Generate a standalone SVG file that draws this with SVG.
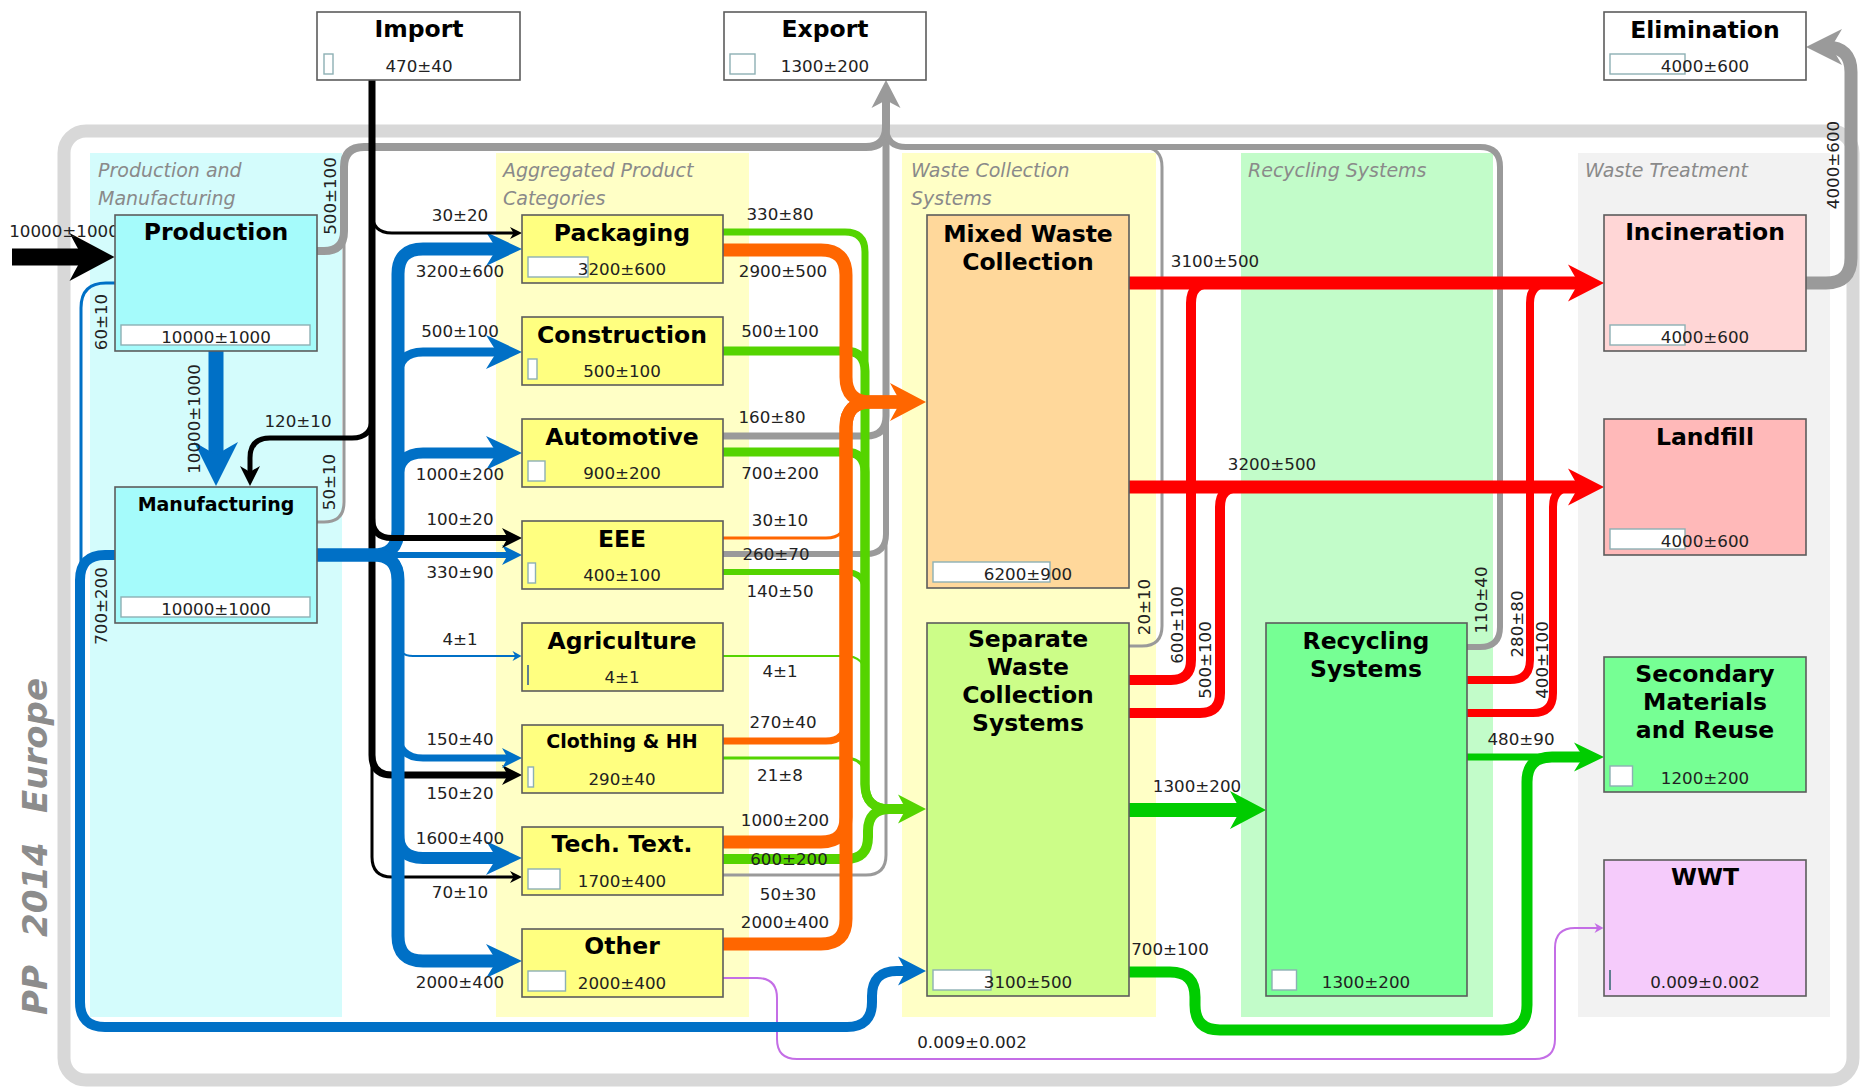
<svg xmlns="http://www.w3.org/2000/svg" width="1864" height="1088" viewBox="0 0 1864 1088">
<style>
.pl{font-family:'DejaVu Sans',sans-serif;font-style:italic;font-size:19px;fill:#8a8a8a}
.nd{stroke:#5c5c5c;stroke-width:1.6}
.bar{fill:#fff;stroke:#8db0b4;stroke-width:1.4}
.bln{stroke:#5f7f8f;stroke-width:2}
.tt{font-family:'DejaVu Sans',sans-serif;font-weight:bold;font-size:23.5px;text-anchor:middle;fill:#000}
.tsm{font-size:19px}
.val{font-family:'DejaVu Sans',sans-serif;font-size:16.7px;text-anchor:middle;fill:#222}
.lb{font-family:'DejaVu Sans',sans-serif;font-size:16.7px;text-anchor:middle;fill:#222}
.f{fill:none}
.k{stroke:#000}
.b{stroke:#0070c6}
.o{stroke:#ff6600}
.y{stroke:#55d400}
.g{stroke:#9a9a9a}
.r{stroke:#ff0000}
.n{stroke:#00cc00}
.v{stroke:#c46ee6}
</style>
<defs>
<marker id="bk-xl" markerUnits="userSpaceOnUse" orient="auto" viewBox="-30 -30 60 60" markerWidth="60" markerHeight="60" refX="0" refY="0"><path d="M22.5,0 L-22.5,-24 Q-13,-6 -9,0 Q-13,6 -22.5,24 Z" fill="#000"/></marker>
<marker id="bk-s" markerUnits="userSpaceOnUse" orient="auto" viewBox="-30 -30 60 60" markerWidth="60" markerHeight="60" refX="0" refY="0"><path d="M10,0 L-10,-10 Q-6,-3 -4,0 Q-6,3 -10,10 Z" fill="#000"/></marker>
<marker id="bk-xs" markerUnits="userSpaceOnUse" orient="auto" viewBox="-30 -30 60 60" markerWidth="60" markerHeight="60" refX="0" refY="0"><path d="M6,0 L-6,-6 L-2.4,0 L-6,6 Z" fill="#000"/></marker>
<marker id="bl-xl" markerUnits="userSpaceOnUse" orient="auto" viewBox="-30 -30 60 60" markerWidth="60" markerHeight="60" refX="0" refY="0"><path d="M22,0 L-22,-22 Q-13,-6 -9,0 Q-13,6 -22,22 Z" fill="#0070c6"/></marker>
<marker id="bl-l" markerUnits="userSpaceOnUse" orient="auto" viewBox="-30 -30 60 60" markerWidth="60" markerHeight="60" refX="0" refY="0"><path d="M18,0 L-18,-17 Q-10,-4 -7,0 Q-10,4 -18,17 Z" fill="#0070c6"/></marker>
<marker id="bl-m" markerUnits="userSpaceOnUse" orient="auto" viewBox="-30 -30 60 60" markerWidth="60" markerHeight="60" refX="0" refY="0"><path d="M14,0 L-14,-14.5 Q-8,-3 -5.5,0 Q-8,3 -14,14.5 Z" fill="#0070c6"/></marker>
<marker id="bl-s" markerUnits="userSpaceOnUse" orient="auto" viewBox="-30 -30 60 60" markerWidth="60" markerHeight="60" refX="0" refY="0"><path d="M10,0 L-10,-10 Q-6,-3 -4,0 Q-6,3 -10,10 Z" fill="#0070c6"/></marker>
<marker id="bl-xxs" markerUnits="userSpaceOnUse" orient="auto" viewBox="-30 -30 60 60" markerWidth="60" markerHeight="60" refX="0" refY="0"><path d="M4.5,0 L-4.5,-5 L-1.8,0 L-4.5,5 Z" fill="#0070c6"/></marker>
<marker id="or-l" markerUnits="userSpaceOnUse" orient="auto" viewBox="-30 -30 60 60" markerWidth="60" markerHeight="60" refX="0" refY="0"><path d="M18,0 L-18,-19 Q-10,-4 -7,0 Q-10,4 -18,19 Z" fill="#ff6600"/></marker>
<marker id="lm-m" markerUnits="userSpaceOnUse" orient="auto" viewBox="-30 -30 60 60" markerWidth="60" markerHeight="60" refX="0" refY="0"><path d="M14,0 L-14,-14.5 Q-8,-3 -5.5,0 Q-8,3 -14,14.5 Z" fill="#55d400"/></marker>
<marker id="gy-m" markerUnits="userSpaceOnUse" orient="auto" viewBox="-30 -30 60 60" markerWidth="60" markerHeight="60" refX="0" refY="0"><path d="M14,0 L-14,-14.5 Q-8,-3 -5.5,0 Q-8,3 -14,14.5 Z" fill="#9a9a9a"/></marker>
<marker id="gy-l" markerUnits="userSpaceOnUse" orient="auto" viewBox="-30 -30 60 60" markerWidth="60" markerHeight="60" refX="0" refY="0"><path d="M18,0 L-18,-18 Q-10,-4 -7,0 Q-10,4 -18,18 Z" fill="#9a9a9a"/></marker>
<marker id="rd-l" markerUnits="userSpaceOnUse" orient="auto" viewBox="-30 -30 60 60" markerWidth="60" markerHeight="60" refX="0" refY="0"><path d="M18,0 L-18,-18.5 Q-10,-4 -7,0 Q-10,4 -18,18.5 Z" fill="#ff0000"/></marker>
<marker id="gn-l" markerUnits="userSpaceOnUse" orient="auto" viewBox="-30 -30 60 60" markerWidth="60" markerHeight="60" refX="0" refY="0"><path d="M18,0 L-18,-19 Q-10,-4 -7,0 Q-10,4 -18,19 Z" fill="#00cc00"/></marker>
<marker id="gn-m" markerUnits="userSpaceOnUse" orient="auto" viewBox="-30 -30 60 60" markerWidth="60" markerHeight="60" refX="0" refY="0"><path d="M14,0 L-16,-14.5 Q-9,-3 -6,0 Q-9,3 -16,14.5 Z" fill="#00cc00"/></marker>
<marker id="vi-xxs" markerUnits="userSpaceOnUse" orient="auto" viewBox="-30 -30 60 60" markerWidth="60" markerHeight="60" refX="0" refY="0"><path d="M4.5,0 L-4.5,-5 L-1.8,0 L-4.5,5 Z" fill="#c46ee6"/></marker>
</defs>

<rect width="1864" height="1088" fill="#fff"/>

<g id="frame">
<rect x="64" y="131" width="1789" height="949" rx="22" fill="none" stroke="#d8d8d8" stroke-width="13"/>
<text transform="translate(47,1015) rotate(-90)" font-family="'DejaVu Sans',sans-serif" font-weight="bold" font-style="italic" font-size="34" fill="#8c8c8c"><tspan x="0">PP</tspan><tspan x="78">2014</tspan><tspan x="202">Europe</tspan></text>
</g>

<g id="panels">
<rect x="90" y="153" width="252" height="864" fill="#d4fcfc"/>
<rect x="496" y="153" width="253" height="864" fill="#ffffc6"/>
<rect x="902" y="153" width="254" height="864" fill="#ffffc6"/>
<rect x="1241" y="153" width="252" height="864" fill="#c2fcc9"/>
<rect x="1578" y="153" width="252" height="864" fill="#f2f2f2"/>
<text class="pl" x="98" y="177">Production and</text>
<text class="pl" x="98" y="205">Manufacturing</text>
<text class="pl" x="503" y="177">Aggregated Product</text>
<text class="pl" x="503" y="205">Categories</text>
<text class="pl" x="911" y="177">Waste Collection</text>
<text class="pl" x="911" y="205">Systems</text>
<text class="pl" x="1248" y="177">Recycling Systems</text>
<text class="pl" x="1585" y="177">Waste Treatment</text>
</g>

<g id="connectors" stroke-linejoin="round">
<g id="gray-flows">
<path class="f g" stroke-width="8" d="M317,251 H324 Q344,251 344,231 V167 Q344,147 364,147 H866 Q886,147 886,127 V94" marker-end="url(#gy-m)"/>
<path class="f g" stroke-width="3" d="M317,522 H324 Q344,522 344,502 V167 Q344,147 364,147 H866 Q886,147 886,127 V94"/>
<path class="f g" stroke-width="7" d="M723,436 H866 Q886,436 886,416 V94"/>
<path class="f g" stroke-width="6" d="M723,554 H866 Q886,554 886,534 V94"/>
<path class="f g" stroke-width="3" d="M723,875 H866 Q886,875 886,855 V94"/>
<path class="f g" stroke-width="3" d="M1129,646 H1142 Q1162,646 1162,626 V167 Q1162,147 1142,147 H906 Q886,147 886,127 V94"/>
<path class="f g" stroke-width="6" d="M1467,647 H1480 Q1500,647 1500,627 V167 Q1500,147 1480,147 H906 Q886,147 886,127 V94"/>
<path class="f g" stroke-width="13" d="M1806,283 H1826 Q1851,283 1851,258 V72 Q1851,47 1826,47 H1824" marker-end="url(#gy-l)"/>
</g>
<g id="lime-flows">
<path class="f y" stroke-width="7" d="M723,232 H845 Q865,232 865,252 V784 Q865,809 890,809 H912" marker-end="url(#lm-m)"/>
<path class="f y" stroke-width="9" d="M723,351 H845 Q865,351 865,371 V784 Q865,809 890,809 H912"/>
<path class="f y" stroke-width="9" d="M723,452 H845 Q865,452 865,472 V784 Q865,809 890,809 H912"/>
<path class="f y" stroke-width="6" d="M723,572 H845 Q865,572 865,592 V784 Q865,809 890,809 H912"/>
<path class="f y" stroke-width="2" d="M723,656 H845 Q865,656 865,676 V784 Q865,809 890,809 H912"/>
<path class="f y" stroke-width="3" d="M723,758 H845 Q865,758 865,778 V784 Q865,809 890,809 H912"/>
<path class="f y" stroke-width="10" d="M723,859 H846 Q868,859 868,837 V831 Q868,809 890,809 H912"/>
</g>
<g id="orange-flows">
<path class="f o" stroke-width="13" d="M723,250 H821 Q846,250 846,275 V377 Q846,402 871,402 H908" marker-end="url(#or-l)"/>
<path class="f o" stroke-width="3" d="M723,538 H826 Q846,538 846,518 V427 Q846,402 871,402 H908"/>
<path class="f o" stroke-width="7" d="M723,741 H826 Q846,741 846,721 V427 Q846,402 871,402 H908"/>
<path class="f o" stroke-width="13" d="M723,842 H821 Q846,842 846,817 V427 Q846,402 871,402 H908"/>
<path class="f o" stroke-width="13" d="M723,944 H821 Q846,944 846,919 V427 Q846,402 871,402 H908"/>
</g>
<g id="violet-flows">
<path class="f v" stroke-width="2" d="M723,978 H757 Q777,978 777,998 V1039 Q777,1059 797,1059 H1535 Q1555,1059 1555,1039 V948 Q1555,928 1575,928 H1599" marker-end="url(#vi-xxs)"/>
</g>
<g id="black-flows-under">
<path class="f k" stroke-width="7" d="M372,80 V755 Q372,775 392,775 H512" marker-end="url(#bk-s)"/>
<path class="f k" stroke-width="3" d="M372,80 V857 Q372,877 392,877 H516" marker-end="url(#bk-xs)"/>
</g>
<g id="blue-flows">
<path class="f b" stroke-width="15" d="M216,351 V464" marker-end="url(#bl-xl)"/>
<path class="f b" stroke-width="3" d="M115,283 H106 Q81,283 81,308 V1002 Q81,1027 106,1027 H847 Q872,1027 872,1002 V996 Q872,971 897,971 H912"/>
<path class="f b" stroke-width="10" d="M115,555 H105 Q80,555 80,580 V1002 Q80,1027 105,1027 H847 Q872,1027 872,1002 V996 Q872,971 897,971 H912" marker-end="url(#bl-m)"/>
<path class="f b" stroke-width="13" d="M317,555 H373 Q398,555 398,530 V274 Q398,249 423,249 H504" marker-end="url(#bl-l)"/>
<path class="f b" stroke-width="9" d="M317,555 H373 Q398,555 398,530 V377 Q398,352 423,352 H504" marker-end="url(#bl-l)"/>
<path class="f b" stroke-width="11" d="M317,555 H373 Q398,555 398,530 V478 Q398,453 423,453 H504" marker-end="url(#bl-l)"/>
<path class="f b" stroke-width="6" d="M317,555 H512" marker-end="url(#bl-s)"/>
<path class="f b" stroke-width="2" d="M317,555 H380 Q398,555 398,573 V641 Q398,656 413,656 H517" marker-end="url(#bl-xxs)"/>
<path class="f b" stroke-width="7" d="M317,555 H373 Q398,555 398,580 V733 Q398,758 423,758 H512" marker-end="url(#bl-s)"/>
<path class="f b" stroke-width="12" d="M317,555 H373 Q398,555 398,580 V833 Q398,858 423,858 H504" marker-end="url(#bl-l)"/>
<path class="f b" stroke-width="13" d="M317,555 H373 Q398,555 398,580 V936 Q398,961 423,961 H504" marker-end="url(#bl-l)"/>
</g>
<g id="black-flows">
<path class="f k" stroke-width="17" d="M12,257 H92" marker-end="url(#bk-xl)"/>
<path class="f k" stroke-width="3" d="M372,80 V213 Q372,233 392,233 H516" marker-end="url(#bk-xs)"/>
<path class="f k" stroke-width="5" d="M372,80 V418 Q372,438 352,438 H270 Q250,438 250,458 V476" marker-end="url(#bk-s)"/>
<path class="f k" stroke-width="6" d="M372,80 V518 Q372,538 392,538 H512" marker-end="url(#bk-s)"/>
</g>
<g id="red-flows">
<path class="f r" stroke-width="10" d="M1129,680 H1171 Q1191,680 1191,660 V303 Q1191,283 1211,283 H1586"/>
<path class="f r" stroke-width="10" d="M1129,713 H1200 Q1220,713 1220,693 V507 Q1220,487 1240,487 H1586"/>
<path class="f r" stroke-width="8" d="M1467,680 H1510 Q1530,680 1530,660 V303 Q1530,283 1550,283 H1586"/>
<path class="f r" stroke-width="8" d="M1467,713 H1533 Q1553,713 1553,693 V507 Q1553,487 1573,487 H1586"/>
<path class="f r" stroke-width="13" d="M1129,283 H1586" marker-end="url(#rd-l)"/>
<path class="f r" stroke-width="13" d="M1129,487 H1586" marker-end="url(#rd-l)"/>
</g>
<g id="green-flows">
<path class="f n" stroke-width="14" d="M1129,810 H1248" marker-end="url(#gn-l)"/>
<path class="f n" stroke-width="11" d="M1129,972 H1170 Q1195,972 1195,997 V1005 Q1195,1030 1220,1030 H1502 Q1527,1030 1527,1005 V782 Q1527,757 1552,757 H1590"/>
<path class="f n" stroke-width="7" d="M1467,757 H1590" marker-end="url(#gn-m)"/>
</g>
<g id="flow-labels">
<text class="lb" x="64" y="237">10000±1000</text>
<text class="lb" transform="translate(336,196) rotate(-90)">500±100</text>
<text class="lb" transform="translate(107,322) rotate(-90)">60±10</text>
<text class="lb" transform="translate(200,419) rotate(-90)">10000±1000</text>
<text class="lb" transform="translate(107,606) rotate(-90)">700±200</text>
<text class="lb" transform="translate(335,482) rotate(-90)">50±10</text>
<text class="lb" x="298" y="427">120±10</text>
<text class="lb" x="460" y="221">30±20</text>
<text class="lb" x="460" y="277">3200±600</text>
<text class="lb" x="460" y="337">500±100</text>
<text class="lb" x="460" y="480">1000±200</text>
<text class="lb" x="460" y="525">100±20</text>
<text class="lb" x="460" y="578">330±90</text>
<text class="lb" x="460" y="645">4±1</text>
<text class="lb" x="460" y="745">150±40</text>
<text class="lb" x="460" y="799">150±20</text>
<text class="lb" x="460" y="844">1600±400</text>
<text class="lb" x="460" y="898">70±10</text>
<text class="lb" x="460" y="988">2000±400</text>
<text class="lb" x="780" y="220">330±80</text>
<text class="lb" x="783" y="277">2900±500</text>
<text class="lb" x="780" y="337">500±100</text>
<text class="lb" x="772" y="423">160±80</text>
<text class="lb" x="780" y="479">700±200</text>
<text class="lb" x="780" y="526">30±10</text>
<text class="lb" x="776" y="560">260±70</text>
<text class="lb" x="780" y="597">140±50</text>
<text class="lb" x="780" y="677">4±1</text>
<text class="lb" x="783" y="728">270±40</text>
<text class="lb" x="780" y="781">21±8</text>
<text class="lb" x="785" y="826">1000±200</text>
<text class="lb" x="789" y="865">600±200</text>
<text class="lb" x="788" y="900">50±30</text>
<text class="lb" x="785" y="928">2000±400</text>
<text class="lb" x="1215" y="267">3100±500</text>
<text class="lb" x="1272" y="470">3200±500</text>
<text class="lb" transform="translate(1150,607) rotate(-90)">20±10</text>
<text class="lb" transform="translate(1183,625) rotate(-90)">600±100</text>
<text class="lb" transform="translate(1211,660) rotate(-90)">500±100</text>
<text class="lb" transform="translate(1487,600) rotate(-90)">110±40</text>
<text class="lb" transform="translate(1523,624) rotate(-90)">280±80</text>
<text class="lb" transform="translate(1548,660) rotate(-90)">400±100</text>
<text class="lb" transform="translate(1839,165) rotate(-90)">4000±600</text>
<text class="lb" x="1197" y="792">1300±200</text>
<text class="lb" x="1170" y="955">700±100</text>
<text class="lb" x="1521" y="745">480±90</text>
<text class="lb" x="972" y="1048">0.009±0.002</text>
</g>
</g>

<g id="import">
<rect class="nd" x="317" y="12" width="203" height="68" fill="#fff"/>
<rect class="bar" x="324" y="54" width="9" height="20"/>
<text class="tt" x="419" y="37">Import</text>
<text class="val" x="419" y="72">470±40</text>
</g>
<g id="export">
<rect class="nd" x="724" y="12" width="202" height="68" fill="#fff"/>
<rect class="bar" x="730" y="54" width="25" height="20"/>
<text class="tt" x="825" y="37">Export</text>
<text class="val" x="825" y="72">1300±200</text>
</g>
<g id="elimination">
<rect class="nd" x="1604" y="12" width="202" height="68" fill="#fff"/>
<rect class="bar" x="1610" y="54" width="75" height="20"/>
<text class="tt" x="1705" y="38">Elimination</text>
<text class="val" x="1705" y="72">4000±600</text>
</g>
<g id="production">
<rect class="nd" x="115" y="215" width="202" height="136" fill="#a5fbfb"/>
<rect class="bar" x="121" y="325" width="189" height="20"/>
<text class="tt" x="216" y="240">Production</text>
<text class="val" x="216" y="343">10000±1000</text>
</g>
<g id="manufacturing">
<rect class="nd" x="115" y="487" width="202" height="136" fill="#a5fbfb"/>
<rect class="bar" x="121" y="597" width="189" height="20"/>
<text class="tt tsm" x="216" y="511">Manufacturing</text>
<text class="val" x="216" y="615">10000±1000</text>
</g>
<g id="packaging">
<rect class="nd" x="522" y="215" width="201" height="68" fill="#ffff80"/>
<rect class="bar" x="528" y="257" width="60" height="20"/>
<text class="tt" x="622" y="241">Packaging</text>
<text class="val" x="622" y="275">3200±600</text>
</g>
<g id="construction">
<rect class="nd" x="522" y="317" width="201" height="68" fill="#ffff80"/>
<rect class="bar" x="528" y="359" width="9" height="20"/>
<text class="tt" x="622" y="343">Construction</text>
<text class="val" x="622" y="377">500±100</text>
</g>
<g id="automotive">
<rect class="nd" x="522" y="419" width="201" height="68" fill="#ffff80"/>
<rect class="bar" x="528" y="461" width="17" height="20"/>
<text class="tt" x="622" y="445">Automotive</text>
<text class="val" x="622" y="479">900±200</text>
</g>
<g id="eee">
<rect class="nd" x="522" y="521" width="201" height="68" fill="#ffff80"/>
<rect class="bar" x="528" y="563" width="7.5" height="20"/>
<text class="tt" x="622" y="547">EEE</text>
<text class="val" x="622" y="581">400±100</text>
</g>
<g id="agriculture">
<rect class="nd" x="522" y="623" width="201" height="68" fill="#ffff80"/>
<line class="bln" x1="528" y1="665" x2="528" y2="685"/>
<text class="tt" x="622" y="649">Agriculture</text>
<text class="val" x="622" y="683">4±1</text>
</g>
<g id="clothing">
<rect class="nd" x="522" y="725" width="201" height="68" fill="#ffff80"/>
<rect class="bar" x="528" y="767" width="5.5" height="20"/>
<text class="tt tsm" x="622" y="748">Clothing &amp; HH</text>
<text class="val" x="622" y="785">290±40</text>
</g>
<g id="techtext">
<rect class="nd" x="522" y="827" width="201" height="68" fill="#ffff80"/>
<rect class="bar" x="528" y="869" width="32" height="20"/>
<text class="tt" x="622" y="852">Tech. Text.</text>
<text class="val" x="622" y="887">1700±400</text>
</g>
<g id="other">
<rect class="nd" x="522" y="929" width="201" height="68" fill="#ffff80"/>
<rect class="bar" x="528" y="971" width="37.5" height="20"/>
<text class="tt" x="622" y="954">Other</text>
<text class="val" x="622" y="989">2000±400</text>
</g>
<g id="mixed-waste">
<rect class="nd" x="927" y="215" width="202" height="373" fill="#ffd89b"/>
<rect class="bar" x="933" y="562" width="117" height="20"/>
<text class="tt" x="1028" y="242">Mixed Waste</text>
<text class="tt" x="1028" y="270">Collection</text>
<text class="val" x="1028" y="580">6200±900</text>
</g>
<g id="separate-waste">
<rect class="nd" x="927" y="623" width="202" height="373" fill="#ccfd88"/>
<rect class="bar" x="933" y="970" width="58" height="20"/>
<text class="tt" x="1028" y="647">Separate</text>
<text class="tt" x="1028" y="675">Waste</text>
<text class="tt" x="1028" y="703">Collection</text>
<text class="tt" x="1028" y="731">Systems</text>
<text class="val" x="1028" y="988">3100±500</text>
</g>
<g id="recycling">
<rect class="nd" x="1266" y="623" width="201" height="373" fill="#76ff94"/>
<rect class="bar" x="1272" y="970" width="24.5" height="20"/>
<text class="tt" x="1366" y="649">Recycling</text>
<text class="tt" x="1366" y="677">Systems</text>
<text class="val" x="1366" y="988">1300±200</text>
</g>
<g id="incineration">
<rect class="nd" x="1604" y="215" width="202" height="136" fill="#ffd6d6"/>
<rect class="bar" x="1610" y="325" width="75" height="20"/>
<text class="tt" x="1705" y="240">Incineration</text>
<text class="val" x="1705" y="343">4000±600</text>
</g>
<g id="landfill">
<rect class="nd" x="1604" y="419" width="202" height="136" fill="#ffb9b9"/>
<rect class="bar" x="1610" y="529" width="75" height="20"/>
<text class="tt" x="1705" y="445">Landfill</text>
<text class="val" x="1705" y="547">4000±600</text>
</g>
<g id="secondary">
<rect class="nd" x="1604" y="657" width="202" height="135" fill="#76ff94"/>
<rect class="bar" x="1610" y="766" width="22.5" height="20"/>
<text class="tt" x="1705" y="682">Secondary</text>
<text class="tt" x="1705" y="710">Materials</text>
<text class="tt" x="1705" y="738">and Reuse</text>
<text class="val" x="1705" y="784">1200±200</text>
</g>
<g id="wwt">
<rect class="nd" x="1604" y="860" width="202" height="136" fill="#f5cbfb"/>
<line class="bln" x1="1610" y1="970" x2="1610" y2="990"/>
<text class="tt" x="1705" y="885">WWT</text>
<text class="val" x="1705" y="988">0.009±0.002</text>
</g>
</svg>
